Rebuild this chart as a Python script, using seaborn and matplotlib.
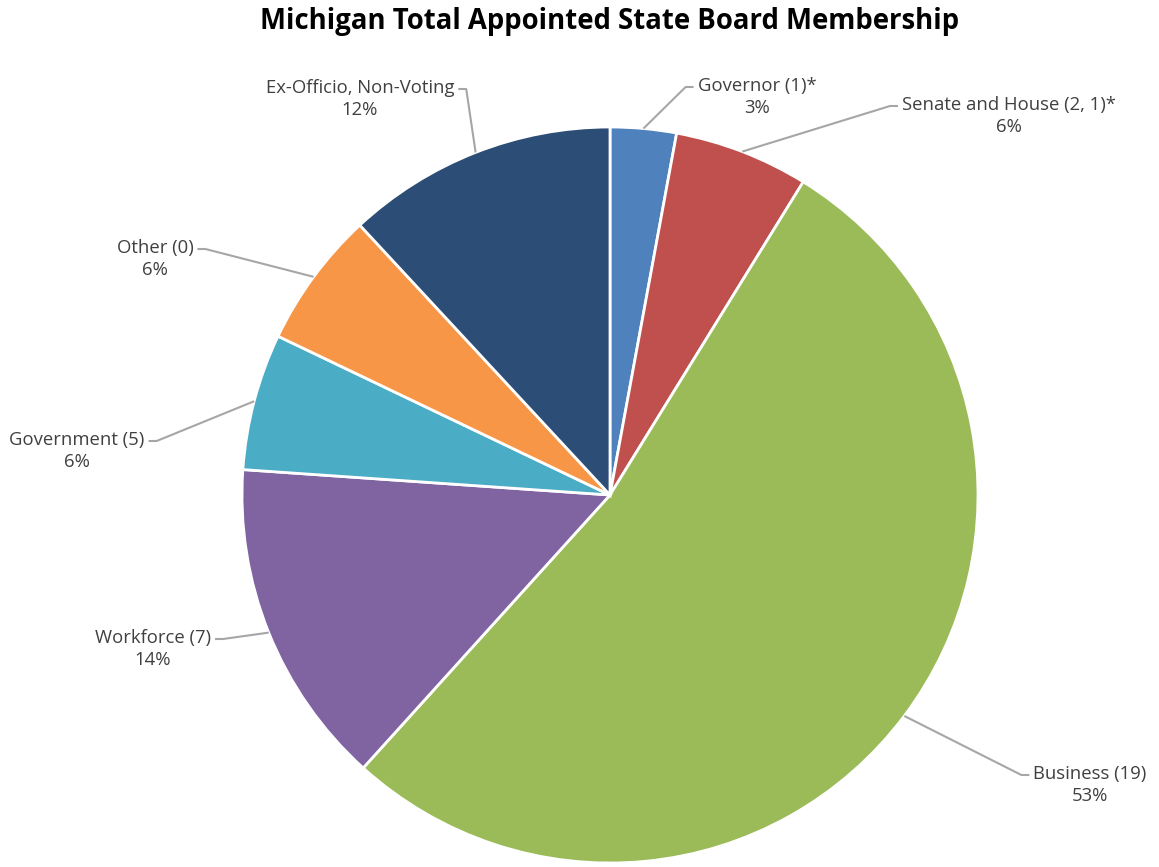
import numpy as np
import matplotlib
matplotlib.use("Agg")
import matplotlib.pyplot as plt
import seaborn as sns

sns.set_theme(style="white")
plt.rcParams['font.family'] = ['Open Sans', 'DejaVu Sans']

# data (share of members, %)
categories = ["Governor (1)*", "Senate and House (2, 1)*", "Business (19)",
              "Workforce (7)", "Government (5)", "Other (0)", "Ex-Officio, Non-Voting"]
shares = [2.9, 5.9, 52.9, 14.4, 6.0, 6.0, 11.9]
colors = ["#4F81BD", "#C0504D", "#9BBB59", "#8064A2", "#4BACC6", "#F79646", "#2C4D75"]

# label placement in pixels (centre of first line, side the leader attaches to)
label_pos = [(757, 85, 'left'), (1009, 104, 'left'), (1090, 773, 'left'),
             (153, 637, 'right'), (77, 439, 'right'), (155, 247, 'right'),
             (360, 87, 'right')]

W, H = 1159, 867
cx, cy, R = 610, 495, 368
FS = 13.3

fig = plt.figure(figsize=(W / 100, H / 100), dpi=100)
ax = fig.add_axes([0, 0, 1, 1])

wedges, _ = ax.pie(shares, colors=colors, startangle=90, counterclock=False,
                   radius=1.0, wedgeprops=dict(edgecolor='white', linewidth=2))

# pie() resets the limits, so map pixels to data afterwards
ax.set_xlim(-cx / R, (W - cx) / R)
ax.set_ylim(-(H - cy) / R, cy / R)
ax.set_aspect('equal')
ax.axis('off')

def px(x, y):
    return (x - cx) / R, (cy - y) / R

renderer = fig.canvas.get_renderer()
total = sum(shares)
for w, name, s, (lx, ly, side) in zip(wedges, categories, shares, label_pos):
    mid = np.deg2rad((w.theta1 + w.theta2) / 2)
    ex, ey = np.cos(mid), np.sin(mid)
    txt = f"{name}\n{s / total * 100:.0f}%"
    ax.text(*px(lx, ly + 12), txt, ha='center', va='center', fontsize=FS,
            color='#404040', linespacing=1.3, multialignment='center')
    # width of the first line, to attach the leader at its side
    first = ax.text(0, 0, name, fontsize=FS)
    fw = first.get_window_extent(renderer=renderer).width
    first.remove()
    if side == 'left':
        ax_x = lx - fw / 2 - 4
        elbow = ax_x - 8
    else:
        ax_x = lx + fw / 2 + 4
        elbow = ax_x + 8
    p1 = px(ax_x, ly + 2)
    p2 = px(elbow, ly + 2)
    ax.plot([ex, p2[0], p1[0]], [ey, p2[1], p1[1]], color='#A6A6A6', lw=1.5,
            solid_capstyle='butt')

ax.text(*px(610, 22), "Michigan Total Appointed State Board Membership",
        ha='center', va='center', fontsize=19.8, fontweight='bold', color='#000000')

fig.savefig("out.png", dpi=100, facecolor='white')
